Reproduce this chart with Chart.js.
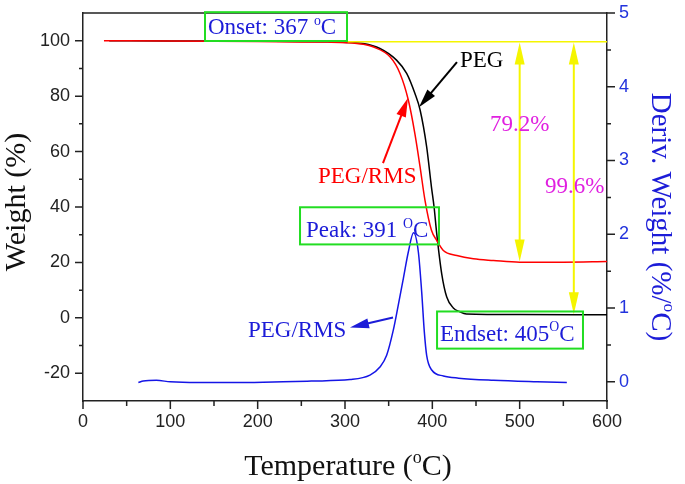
<!DOCTYPE html>
<html>
<head>
<meta charset="utf-8">
<script src="https://cdn.jsdelivr.net/npm/chart.js@4.4.1/dist/chart.umd.min.js"></script>
<style>
  html, body { margin: 0; padding: 0; background: #fff; }
</style>
</head>
<body>
<canvas id="tga" width="685" height="484"></canvas>
<script>
// axis tick labels
const tempTicks = [0, 100, 200, 300, 400, 500, 600];
const weightTicks = [-20, 0, 20, 40, 60, 80, 100];
const derivTicks = [0, 1, 2, 3, 4, 5];

// TGA, PEG/RMS (red)
const rmsTemp = [24, 100, 200, 280, 302, 321, 332, 351.5, 363, 372.5, 380, 386, 391.6, 399, 405, 412.6, 428, 447, 470, 500, 550, 600];
const rmsWeight = [100.0, 99.9, 99.7, 99.5, 99.3, 98.7, 97.8, 94.2, 88.2, 78.6, 66.5, 54.4, 42.4, 31.6, 28.0, 24.3, 22.5, 21.3, 20.7, 20.1, 20.1, 20.3];

// TGA, PEG (black)
const pegTemp = [30, 100, 200, 280, 302, 321, 340, 359, 370.6, 380, 386, 393.5, 399, 402, 405, 410.7, 416.5, 424, 431.5, 439, 500, 600];
const pegWeight = [100.0, 99.9, 99.8, 99.6, 99.4, 99.0, 97.2, 93.0, 88.2, 81.0, 75.0, 61.7, 47.2, 40.0, 30.5, 16.0, 7.5, 3.6, 2.2, 1.4, 1.2, 1.1];

// DTG, PEG/RMS (blue, right axis)
const dtgTemp = [63.4, 69, 84, 100, 131, 180, 229, 261.5, 305.7, 328.6, 340, 347.7, 355.3, 361, 366.8, 372.5, 378.5, 384, 387.8, 390.8, 393.5, 399.3, 412.6, 430, 470, 520, 554];
const dtgDeriv = [-0.01, 0.01, 0.02, 0.0, -0.01, -0.01, 0.0, 0.01, 0.03, 0.09, 0.20, 0.36, 0.70, 1.04, 1.40, 1.76, 2.02, 1.76, 1.22, 0.68, 0.36, 0.16, 0.08, 0.05, 0.02, 0.0, -0.01];

const pts = (xs, ys) => xs.map((x, i) => ({ x: x, y: ys[i] }));

const BLUE = '#1c1cd8';
const GREEN = '#22dd22';
const YELLOW = '#f5f500';
const MAGENTA = '#e020e0';
const SERIF = '"Liberation Serif", "Times New Roman", serif';
const SANS = '"Liberation Sans", Arial, sans-serif';

// annotations, in data units of x / left y
const boxes = [
  { x0: 139.7, x1: 302.3, y0: 99.9, y1: 110.3 },
  { x0: 248.5, x1: 407.6, y0: 26.5, y1: 39.9 },
  { x0: 405.4, x1: 572.5, y0: -11.1, y1: 2.3 }
];
const labels = [
  { x: 143, y: 102.4, color: BLUE, parts: [{ t: 'Onset: 367 ' }, { t: 'o', sup: true }, { t: 'C' }] },
  { x: 255.3, y: 29.0, color: BLUE, parts: [{ t: 'Peak: 391 ' }, { t: 'O', sup: true }, { t: 'C' }] },
  { x: 408.8, y: -8.2, color: BLUE, parts: [{ t: 'Endset: 405' }, { t: 'O', sup: true }, { t: 'C' }] },
  { x: 431.7, y: 90.5, color: '#000', parts: [{ t: 'PEG' }] },
  { x: 269.1, y: 48.7, color: '#ff0000', parts: [{ t: 'PEG/RMS' }] },
  { x: 188.9, y: -6.8, color: BLUE, parts: [{ t: 'PEG/RMS' }] },
  { x: 466, y: 67.4, color: MAGENTA, parts: [{ t: '79.2%' }] },
  { x: 529, y: 44.9, color: MAGENTA, parts: [{ t: '99.6%' }] }
];
const arrows = [
  { x0: 428.2, y0: 92.3, x1: 384.7, y1: 76.0, color: '#000' },
  { x0: 343.5, y0: 55.8, x1: 372.1, y1: 79.3, color: '#ff0000' },
  { x0: 355.0, y0: 0.1, x1: 305.7, y1: -3.5, color: BLUE }
];
const yellowLevel = { y: 99.6, x0: 303, x1: 600 };
const yellowArrows = [
  { x: 500, y0: 99.4, y1: 20.3 },
  { x: 562, y0: 99.4, y1: 1.3 }
];

function richText(ctx, parts, x, y, size, color, center) {
  ctx.save();
  ctx.fillStyle = color;
  ctx.textBaseline = 'alphabetic';
  const fonts = parts.map(p => (p.sup ? size * 0.6 : size) + 'px ' + SERIF);
  const widths = parts.map((p, i) => { ctx.font = fonts[i]; return ctx.measureText(p.t).width; });
  const total = widths.reduce((a, b) => a + b, 0);
  let cx = center ? x - total / 2 : x;
  parts.forEach((p, i) => {
    ctx.font = fonts[i];
    ctx.fillText(p.t, cx, p.sup ? y - size * 0.4 : y);
    cx += widths[i];
  });
  ctx.restore();
}

function arrowHead(ctx, x0, y0, x1, y1, len, w) {
  const a = Math.atan2(y1 - y0, x1 - x0);
  ctx.beginPath();
  ctx.moveTo(x1, y1);
  ctx.lineTo(x1 - len * Math.cos(a) + w / 2 * Math.sin(a), y1 - len * Math.sin(a) - w / 2 * Math.cos(a));
  ctx.lineTo(x1 - len * Math.cos(a) - w / 2 * Math.sin(a), y1 - len * Math.sin(a) + w / 2 * Math.cos(a));
  ctx.closePath();
  ctx.fill();
}

const decor = {
  id: 'decor',
  afterDraw(chart) {
    const ctx = chart.ctx;
    const sx = chart.scales.x, sy = chart.scales.y, s2 = chart.scales.y2;
    const area = chart.chartArea;
    ctx.save();

    // frame top + tick marks
    ctx.strokeStyle = '#222';
    ctx.lineWidth = 1.5;
    ctx.beginPath();
    ctx.moveTo(area.left, area.top);
    ctx.lineTo(area.right, area.top);
    const tick = (x0, y0, x1, y1) => { ctx.moveTo(x0, y0); ctx.lineTo(x1, y1); };
    tempTicks.forEach((v, i) => {
      const px = sx.getPixelForValue(v);
      tick(px, area.bottom, px, area.bottom + 8);
      if (i < tempTicks.length - 1) {
        const pm = sx.getPixelForValue((v + tempTicks[i + 1]) / 2);
        tick(pm, area.bottom, pm, area.bottom + 5);
      }
    });
    weightTicks.forEach((v, i) => {
      const py = sy.getPixelForValue(v);
      tick(area.left - 8, py, area.left, py);
      if (i < weightTicks.length - 1) {
        const pm = sy.getPixelForValue((v + weightTicks[i + 1]) / 2);
        tick(area.left - 4, pm, area.left, pm);
      }
    });
    derivTicks.forEach((v, i) => {
      const py = s2.getPixelForValue(v);
      tick(area.right, py, area.right + 8, py);
      if (i < derivTicks.length - 1) {
        const pm = s2.getPixelForValue((v + derivTicks[i + 1]) / 2);
        tick(area.right, pm, area.right + 4, pm);
      }
    });
    ctx.stroke();

    // yellow level line and arrows
    ctx.strokeStyle = YELLOW;
    ctx.fillStyle = YELLOW;
    ctx.lineWidth = 1.5;
    ctx.beginPath();
    ctx.moveTo(sx.getPixelForValue(yellowLevel.x0), sy.getPixelForValue(yellowLevel.y));
    ctx.lineTo(sx.getPixelForValue(yellowLevel.x1), sy.getPixelForValue(yellowLevel.y));
    ctx.stroke();
    ctx.lineWidth = 2;
    yellowArrows.forEach(a => {
      const px = sx.getPixelForValue(a.x);
      const pa = sy.getPixelForValue(a.y0), pb = sy.getPixelForValue(a.y1);
      ctx.beginPath();
      ctx.moveTo(px, pa + 10);
      ctx.lineTo(px, pb - 10);
      ctx.stroke();
      arrowHead(ctx, px, pb, px, pa, 22, 10);
      arrowHead(ctx, px, pa, px, pb, 22, 10);
    });

    // pointer arrows
    arrows.forEach(a => {
      const x0 = sx.getPixelForValue(a.x0), y0 = sy.getPixelForValue(a.y0);
      const x1 = sx.getPixelForValue(a.x1), y1 = sy.getPixelForValue(a.y1);
      const ang = Math.atan2(y1 - y0, x1 - x0);
      ctx.strokeStyle = a.color;
      ctx.fillStyle = a.color;
      ctx.lineWidth = 2;
      ctx.beginPath();
      ctx.moveTo(x0, y0);
      ctx.lineTo(x1 - 10 * Math.cos(ang), y1 - 10 * Math.sin(ang));
      ctx.stroke();
      arrowHead(ctx, x0, y0, x1, y1, 19, 10);
    });

    // green boxes
    ctx.strokeStyle = GREEN;
    ctx.lineWidth = 2;
    boxes.forEach(b => {
      const x0 = sx.getPixelForValue(b.x0), x1 = sx.getPixelForValue(b.x1);
      const y0 = sy.getPixelForValue(b.y1), y1 = sy.getPixelForValue(b.y0);
      ctx.strokeRect(x0, y0, x1 - x0, y1 - y0);
    });

    // annotation texts
    labels.forEach(l => {
      richText(ctx, l.parts, sx.getPixelForValue(l.x), sy.getPixelForValue(l.y), 23, l.color, false);
    });

    // axis titles
    richText(ctx, [{ t: 'Temperature (' }, { t: 'o', sup: true }, { t: 'C)' }], 348, 475, 30, '#111', true);
    ctx.save();
    ctx.translate(25, 202);
    ctx.rotate(-Math.PI / 2);
    richText(ctx, [{ t: 'Weight (%)' }], 0, 0, 30, '#111', true);
    ctx.restore();
    ctx.save();
    ctx.translate(652, 217);
    ctx.rotate(Math.PI / 2);
    richText(ctx, [{ t: 'Deriv. Weight (%/' }, { t: 'o', sup: true }, { t: 'C)' }], 0, 0, 29, BLUE, true);
    ctx.restore();

    ctx.restore();
  }
};

const setTicks = list => scale => { scale.ticks = list.map(v => ({ value: v })); };
const fixWidth = w => s => { s.width = w; s.paddingTop = 0; s.paddingBottom = 0; };

new Chart(document.getElementById('tga'), {
  type: 'line',
  data: {
    datasets: [
      { label: 'PEG/RMS', data: pts(rmsTemp, rmsWeight), borderColor: '#ff0000', yAxisID: 'y' },
      { label: 'PEG', data: pts(pegTemp, pegWeight), borderColor: '#000000', yAxisID: 'y' },
      { label: 'PEG/RMS DTG', data: pts(dtgTemp, dtgDeriv), borderColor: '#1515e6', yAxisID: 'y2' }
    ]
  },
  options: {
    responsive: false,
    animation: false,
    devicePixelRatio: 1,
    layout: { padding: { top: 13, left: 0, right: 0, bottom: 0 } },
    elements: {
      line: { borderWidth: 1.5, cubicInterpolationMode: 'monotone', fill: false },
      point: { radius: 0 }
    },
    plugins: { legend: { display: false }, tooltip: { enabled: false } },
    scales: {
      x: {
        type: 'linear', min: 0, max: 600,
        afterBuildTicks: setTicks(tempTicks),
        afterFit: s => { s.height = 83; s.paddingLeft = 0; s.paddingRight = 0; },
        grid: { display: false, drawTicks: false },
        border: { display: true, color: '#222', width: 1.5 },
        ticks: { autoSkip: false, maxRotation: 0, padding: 10, color: '#222', font: { family: SANS, size: 18 } }
      },
      y: {
        type: 'linear', position: 'left', min: -30, max: 110,
        afterBuildTicks: setTicks(weightTicks),
        afterFit: fixWidth(83),
        grid: { display: false, drawTicks: false },
        border: { display: true, color: '#222', width: 1.5 },
        ticks: { autoSkip: false, padding: 13, color: '#222', font: { family: SANS, size: 18 } }
      },
      y2: {
        type: 'linear', position: 'right', min: -0.26, max: 5,
        afterBuildTicks: setTicks(derivTicks),
        afterFit: fixWidth(78),
        grid: { display: false, drawTicks: false },
        border: { display: true, color: '#222', width: 1.5 },
        ticks: { autoSkip: false, padding: 12, color: '#2233dd', font: { family: SANS, size: 18 } }
      }
    }
  },
  plugins: [decor]
});
</script>
</body>
</html>
